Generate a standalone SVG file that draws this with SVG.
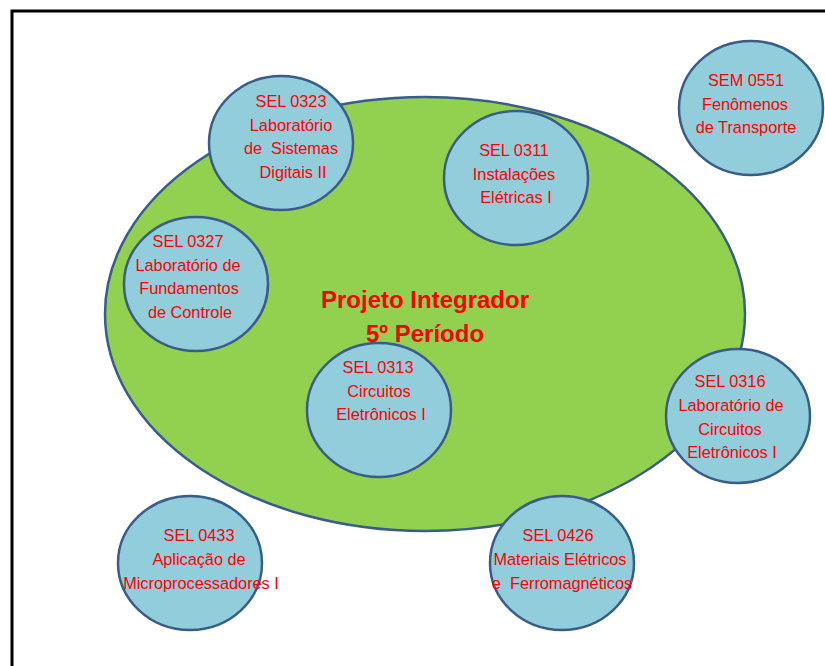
<svg xmlns="http://www.w3.org/2000/svg" width="825" height="666" viewBox="0 0 825 666">
<style>
.node ellipse{fill:#92CDDC;stroke:#385D8A;stroke-width:2.5}
.node text{font-family:"Liberation Sans",Arial,sans-serif;font-size:16.3px;fill:#FF0000;text-anchor:middle;white-space:pre}
.title{font-family:"Liberation Sans",Arial,sans-serif;font-size:24px;font-weight:bold;fill:#FF0000;text-anchor:middle}
</style>
<rect width="825" height="666" fill="#FFFFFF"/>
<path d="M12 670 V11 H830" fill="none" stroke="#000000" stroke-width="3"/>
<g id="main">
<ellipse cx="425" cy="314" rx="320" ry="217" fill="#92D050" stroke="#385D8A" stroke-width="2.5"/>
<text class="title" x="425" y="308">Projeto Integrador</text>
<text class="title" x="425" y="342">5º Período</text>
</g>
<g id="connectors"></g>
<g id="sel0323" class="node">
<ellipse cx="281" cy="143" rx="72" ry="67"/>
<text x="291" y="107">SEL 0323</text>
<text x="291" y="131">Laboratório</text>
<text x="291" y="154" xml:space="preserve">de  Sistemas</text>
<text x="293" y="178">Digitais II</text>
</g>
<g id="sel0327" class="node">
<ellipse cx="196" cy="284" rx="72" ry="67"/>
<text x="188" y="247">SEL 0327</text>
<text x="188" y="271">Laboratório de</text>
<text x="189" y="294">Fundamentos</text>
<text x="190" y="318">de Controle</text>
</g>
<g id="sel0311" class="node">
<ellipse cx="516" cy="178" rx="72" ry="67"/>
<text x="514" y="156">SEL 0311</text>
<text x="514" y="180">Instalações</text>
<text x="516" y="203">Elétricas I</text>
</g>
<g id="sem0551" class="node">
<ellipse cx="751" cy="108" rx="72" ry="67"/>
<text x="746" y="86">SEM 0551</text>
<text x="745" y="110">Fenômenos</text>
<text x="746" y="133">de Transporte</text>
</g>
<g id="sel0313" class="node">
<ellipse cx="379" cy="410" rx="72" ry="67"/>
<text x="378" y="373">SEL 0313</text>
<text x="379" y="397">Circuitos</text>
<text x="381" y="420">Eletrônicos I</text>
</g>
<g id="sel0316" class="node">
<ellipse cx="738" cy="416" rx="72" ry="67"/>
<text x="730" y="387">SEL 0316</text>
<text x="731" y="411">Laboratório de</text>
<text x="730" y="435">Circuitos</text>
<text x="732" y="458">Eletrônicos I</text>
</g>
<g id="sel0433" class="node">
<ellipse cx="190" cy="563" rx="72" ry="67"/>
<text x="199" y="541">SEL 0433</text>
<text x="199" y="565">Aplicação de</text>
<text x="201" y="589">Microprocessadores I</text>
</g>
<g id="sel0426" class="node">
<ellipse cx="562" cy="563" rx="72" ry="67"/>
<text x="558" y="541">SEL 0426</text>
<text x="560" y="565">Materiais Elétricos</text>
<text x="562" y="589" xml:space="preserve">e  Ferromagnéticos</text>
</g>
</svg>
